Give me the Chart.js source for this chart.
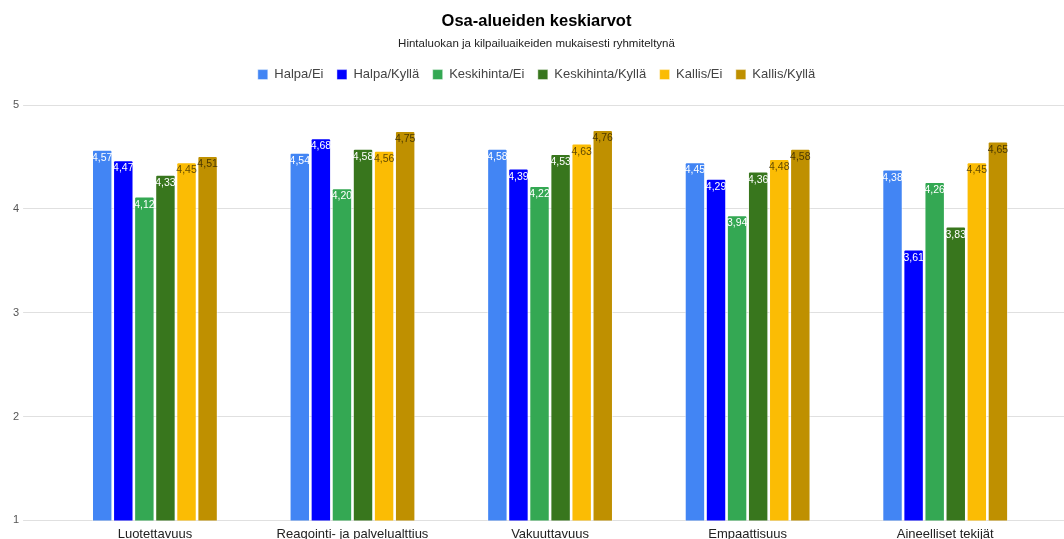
<!DOCTYPE html>
<html>
<head>
<meta charset="utf-8">
<script src="https://cdn.jsdelivr.net/npm/chart.js@4"></script>
<style>
  html, body { margin: 0; padding: 0; background: #fff; overflow: hidden; }
  #wrap { width: 1064px; height: 548px; position: relative; }
</style>
</head>
<body>
<div id="wrap"><canvas id="c"></canvas></div>
<script>
// Osa-alueet (x axis categories)
const categories = ['Luotettavuus', 'Reagointi- ja palvelualttius', 'Vakuuttavuus', 'Empaattisuus', 'Aineelliset tekijät'];

// Keskiarvot per ryhmä
const halpaEi          = [4.57, 4.54, 4.58, 4.45, 4.38];
const halpaKylla       = [4.47, 4.68, 4.39, 4.29, 3.61];
const keskihintaEi     = [4.12, 4.20, 4.22, 3.94, 4.26];
const keskihintaKylla  = [4.33, 4.58, 4.53, 4.36, 3.83];
const kallisEi         = [4.45, 4.56, 4.63, 4.48, 4.45];
const kallisKylla      = [4.51, 4.75, 4.76, 4.58, 4.65];

const seriesNames = ['Halpa/Ei', 'Halpa/Kyllä', 'Keskihinta/Ei', 'Keskihinta/Kyllä', 'Kallis/Ei', 'Kallis/Kyllä'];
const seriesValues = [halpaEi, halpaKylla, keskihintaEi, keskihintaKylla, kallisEi, kallisKylla];
const seriesColors = ['#4285F4', '#0000FF', '#34A853', '#38761D', '#FBBC04', '#BF9000'];
const labelColors  = ['#ffffff', '#ffffff', '#ffffff', '#ffffff', 'rgba(40,30,0,0.75)', 'rgba(40,30,0,0.8)'];

const yTicks = [1, 2, 3, 4, 5];

const FONT = "'Liberation Sans', Arial, sans-serif";

// Value labels drawn inside the top of each bar, Finnish decimal comma
const barValueLabels = {
  id: 'barValueLabels',
  afterDatasetsDraw(chart) {
    const ctx = chart.ctx;
    ctx.save();
    ctx.font = '10.5px ' + FONT;
    ctx.textAlign = 'center';
    ctx.textBaseline = 'top';
    chart.data.datasets.forEach((ds, di) => {
      const meta = chart.getDatasetMeta(di);
      if (meta.hidden) return;
      meta.data.forEach((bar, i) => {
        const txt = ds.data[i].toFixed(2).replace('.', ',');
        ctx.fillStyle = labelColors[di];
        ctx.fillText(txt, bar.x, bar.y + 3);
      });
    });
    ctx.restore();
  }
};

// Extra space between the legend row and the plot area
const legendGap = {
  id: 'legendGap',
  beforeInit(chart) {
    const origFit = chart.legend.fit;
    chart.legend.fit = function () {
      origFit.call(this);
      this.height += 14;
    };
  }
};

const datasets = seriesNames.map((name, i) => ({
  label: name,
  data: seriesValues[i],
  backgroundColor: seriesColors[i],
  borderColor: 'rgba(255,255,255,0.6)',
  borderWidth: { top: 1, left: 1, right: 1, bottom: 0 },
  borderRadius: { topLeft: 2, topRight: 2 },
  borderSkipped: 'bottom',
  barPercentage: 0.97,
  categoryPercentage: 0.64
}));

new Chart(document.getElementById('c'), {
  type: 'bar',
  data: { labels: categories, datasets },
  plugins: [barValueLabels, legendGap],
  options: {
    responsive: true,
    maintainAspectRatio: false,
    animation: false,
    layout: { padding: { left: 9, right: 0, top: 0, bottom: 0 } },
    plugins: {
      title: {
        display: true,
        text: 'Osa-alueiden keskiarvot',
        color: '#000',
        font: { family: FONT, size: 16.5, weight: 'bold' },
        padding: { top: 12, bottom: 5 }
      },
      subtitle: {
        display: true,
        text: 'Hintaluokan ja kilpailuaikeiden mukaisesti ryhmiteltynä',
        color: '#222',
        font: { family: FONT, size: 11.5 },
        padding: { top: 0, bottom: 4 }
      },
      legend: {
        position: 'top',
        labels: {
          color: '#444',
          font: { family: FONT, size: 13 },
          boxWidth: 10,
          boxHeight: 10,
          padding: 13.5
        }
      },
      tooltip: { enabled: false }
    },
    scales: {
      x: {
        grid: { display: false, drawTicks: false },
        border: { display: false },
        ticks: { color: '#222', font: { family: FONT, size: 13 }, padding: 6, maxRotation: 0, autoSkip: false }
      },
      y: {
        min: 1,
        max: 5,
        afterBuildTicks: (scale) => { scale.ticks = yTicks.map(v => ({ value: v })); },
        grid: { color: '#e0e0e0', tickColor: '#e0e0e0', tickLength: 33, drawTicks: true },
        border: { display: false },
        ticks: { color: '#555', font: { family: FONT, size: 11 }, padding: 4 }
      },
      yRight: {
        position: 'right',
        min: 1,
        max: 5,
        afterBuildTicks: (scale) => { scale.ticks = yTicks.map(v => ({ value: v })); },
        grid: { drawOnChartArea: false, color: '#e0e0e0', tickColor: '#e0e0e0', tickLength: 20, drawTicks: true },
        border: { display: false },
        ticks: { display: false }
      }
    }
  }
});
</script>
</body>
</html>
